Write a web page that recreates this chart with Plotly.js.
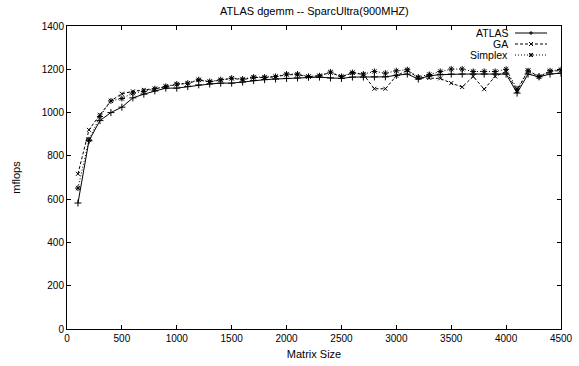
<!DOCTYPE html>
<html>
<head>
<meta charset="utf-8">
<script src="https://cdn.plot.ly/plotly-3.0.1.min.js"></script>
<style>html,body{margin:0;padding:0;background:#fff;}#chart{width:579px;height:366px;}</style>
</head>
<body>
<div id="chart"></div>
<script>
const matrixSize = [100,200,300,400,500,600,700,800,900,1000,1100,1200,1300,1400,1500,1600,1700,1800,1900,2000,2100,2200,2300,2400,2500,2600,2700,2800,2900,3000,3100,3200,3300,3400,3500,3600,3700,3800,3900,4000,4100,4200,4300,4400,4500];
const atlas = [582,870,963,1000,1025,1068,1085,1100,1113,1113,1120,1128,1132,1136,1136,1141,1148,1152,1155,1158,1160,1163,1164,1160,1158,1164,1164,1165,1165,1172,1178,1155,1170,1175,1178,1178,1178,1178,1178,1178,1090,1178,1165,1178,1182];
const ga = [717,920,990,1054,1087,1098,1105,1110,1120,1130,1135,1150,1142,1150,1158,1152,1162,1162,1165,1175,1175,1166,1170,1185,1165,1183,1176,1110,1110,1170,1195,1160,1160,1158,1136,1118,1167,1108,1167,1190,1100,1195,1165,1190,1195];
const simplex = [651,874,982,1054,1065,1090,1098,1110,1121,1132,1136,1152,1144,1152,1159,1155,1164,1164,1167,1178,1178,1167,1170,1187,1167,1185,1178,1190,1182,1193,1198,1164,1176,1190,1201,1201,1190,1190,1190,1200,1110,1193,1167,1193,1198];
const seriesNames = ['ATLAS','GA','Simplex'];

const font = 'Liberation Sans, Arial, Helvetica, sans-serif';
const dashes = ['solid', '3px,2px', '1px,2px'];
const symbols = ['cross-thin', 'x-thin', 'asterisk'];
const sizes = [5, 4, 5];
const seriesValues = [atlas, ga, simplex];

const data = seriesNames.map((name, i) => ({
  x: matrixSize, y: seriesValues[i], name: name, type: 'scatter', mode: 'lines+markers',
  showlegend: false,
  line: {color: '#000', width: 1, dash: dashes[i]},
  marker: {symbol: symbols[i], size: sizes[i], color: '#000', line: {color: '#000', width: 1}}
}));

// gnuplot-style key (text right-aligned, sample to the right), drawn in paper units
const plotL = 67, plotR = 561, plotT = 26, plotB = 329;
const px = x => (x - plotL) / (plotR - plotL);
const py = y => (plotB - y) / (plotB - plotT);
const keyRows = [33, 44, 55];
const shapes = [], annotations = [];
seriesNames.forEach((name, i) => {
  const y = keyRows[i];
  annotations.push({xref: 'paper', yref: 'paper', x: px(509), y: py(y), xanchor: 'right', yanchor: 'middle',
    text: name, showarrow: false, borderpad: 0, font: {family: font, size: 10.5, color: '#000'}});
  shapes.push({type: 'line', xref: 'paper', yref: 'paper', x0: px(515), x1: px(547), y0: py(y), y1: py(y),
    line: {color: '#000', width: 1, dash: dashes[i]}});
  const h = 2, cx = 531;
  const seg = (x0, y0, x1, y1) => shapes.push({type: 'line', xref: 'paper', yref: 'paper',
    x0: px(x0), x1: px(x1), y0: py(y0), y1: py(y1), line: {color: '#000', width: 1}});
  if (i === 0 || i === 2) { seg(cx - h, y, cx + h, y); seg(cx, y - h, cx, y + h); }
  if (i === 1 || i === 2) { seg(cx - h, y - h, cx + h, y + h); seg(cx - h, y + h, cx + h, y - h); }
});

const axisCommon = {
  showgrid: false, zeroline: false, showline: true, linecolor: '#000', linewidth: 1,
  mirror: 'ticks', ticks: 'inside', ticklen: 4, tickcolor: '#000', tickwidth: 1,
  tickfont: {family: font, size: 10, color: '#000'}
};
const layout = {
  width: 579, height: 366,
  margin: {l: plotL, r: 579 - plotR, t: plotT, b: 366 - plotB, pad: 0},
  paper_bgcolor: '#fff', plot_bgcolor: '#fff',
  font: {family: font, size: 10, color: '#000'},
  title: {text: 'ATLAS dgemm -- SparcUltra(900MHZ)', font: {family: font, size: 11, color: '#000'},
          x: 0.543, xanchor: 'center', y: 0.97, yanchor: 'middle', yref: 'container', xref: 'container'},
  xaxis: Object.assign({}, axisCommon, {range: [0, 4500], dtick: 500, tick0: 0,
          title: {text: 'Matrix Size', font: {family: font, size: 11, color: '#000'}, standoff: 7}}),
  yaxis: Object.assign({}, axisCommon, {range: [0, 1400], dtick: 200, tick0: 0,
          title: {text: 'mflops', font: {family: font, size: 11, color: '#000'}, standoff: 18}}),
  showlegend: false,
  shapes: shapes,
  annotations: annotations
};
Plotly.newPlot('chart', data, layout, {displayModeBar: false, staticPlot: true});
</script>
</body>
</html>
